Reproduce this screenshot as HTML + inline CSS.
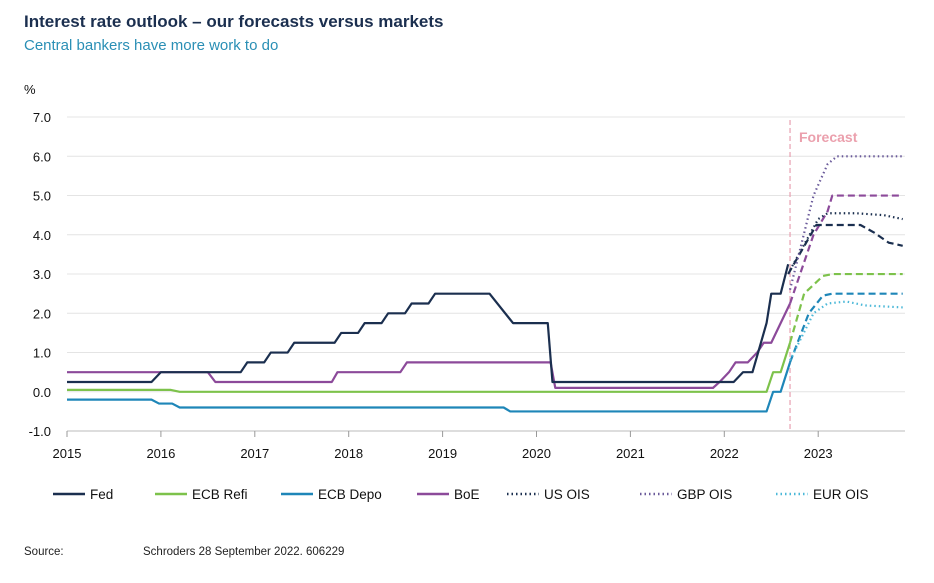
<!DOCTYPE html>
<html><head><meta charset="utf-8"><style>
body{margin:0;background:#fff;width:934px;height:578px;overflow:hidden;font-family:"Liberation Sans",sans-serif}
</style></head><body>
<svg width="934" height="578" id="chart" font-family="Liberation Sans, sans-serif">
<text x="24" y="27" font-size="17" font-weight="bold" fill="#1b2f4f">Interest rate outlook – our forecasts versus markets</text>
<text x="24" y="50" font-size="15" fill="#2a8fb5">Central bankers have more work to do</text>
<text x="24" y="94" font-size="13" fill="#111">%</text>
<g id="grid"></g><g id="series"></g><g id="legend"></g>
<text x="24" y="555" font-size="11.5" fill="#222">Source:</text>
<text x="143" y="555" font-size="11.5" fill="#222">Schroders 28 September 2022. 606229</text>
</svg>
<script>
const yTicks=[7,6,5,4,3,2,1,0,-1];
const xYears=[2015,2016,2017,2018,2019,2020,2021,2022,2023];
const fed=[[2015,0.25],[2015.9,0.25],[2016.0,0.5],[2016.85,0.5],[2016.92,0.75],[2017.1,0.75],[2017.17,1.0],[2017.35,1.0],[2017.42,1.25],[2017.85,1.25],[2017.92,1.5],[2018.1,1.5],[2018.17,1.75],[2018.35,1.75],[2018.42,2.0],[2018.6,2.0],[2018.67,2.25],[2018.85,2.25],[2018.92,2.5],[2019.5,2.5],[2019.75,1.75],[2020.12,1.75],[2020.17,0.25],[2022.1,0.25],[2022.2,0.5],[2022.3,0.5],[2022.45,1.75],[2022.5,2.5],[2022.6,2.5],[2022.68,3.25]];
const ecbRefi=[[2015,0.05],[2016.1,0.05],[2016.2,0],[2022.45,0],[2022.52,0.5],[2022.6,0.5],[2022.7,1.25]];
const ecbDepo=[[2015,-0.2],[2015.9,-0.2],[2015.98,-0.3],[2016.12,-0.3],[2016.2,-0.4],[2019.65,-0.4],[2019.72,-0.5],[2022.45,-0.5],[2022.52,0],[2022.6,0],[2022.7,0.75]];
const boe=[[2015,0.5],[2016.5,0.5],[2016.58,0.25],[2017.82,0.25],[2017.88,0.5],[2018.55,0.5],[2018.62,0.75],[2020.15,0.75],[2020.2,0.1],[2021.88,0.1],[2021.95,0.25],[2022.05,0.5],[2022.12,0.75],[2022.25,0.75],[2022.35,1.0],[2022.42,1.25],[2022.5,1.25],[2022.6,1.75],[2022.7,2.25]];
const fedF=[[2022.68,3.0],[2022.98,4.25],[2023.45,4.25],[2023.6,4.05],[2023.75,3.8],[2023.9,3.72]];
const refiF=[[2022.7,1.25],[2022.85,2.5],[2023.05,2.95],[2023.15,3.0],[2023.9,3.0]];
const depoF=[[2022.7,0.75],[2022.9,2.0],[2023.05,2.45],[2023.15,2.5],[2023.9,2.5]];
const boeF=[[2022.7,2.25],[2022.95,4.0],[2023.1,4.6],[2023.15,5.0],[2023.9,5.0]];
const usOis=[[2022.7,3.1],[2023.0,4.4],[2023.1,4.55],[2023.4,4.55],[2023.7,4.5],[2023.9,4.4]];
const gbpOis=[[2022.7,2.6],[2022.95,5.0],[2023.1,5.8],[2023.2,6.0],[2023.9,6.0]];
const eurOis=[[2022.7,0.8],[2022.95,2.0],[2023.1,2.25],[2023.3,2.3],[2023.5,2.2],[2023.9,2.15]];
const X0=67,YW=93.9,Y0=391.8,YU=39.25;
const x=v=>X0+(v-2015)*YW, y=v=>Y0-v*YU;
const NS="http://www.w3.org/2000/svg";
function mk(t,a,p){const e=document.createElementNS(NS,t);for(const k in a)e.setAttribute(k,a[k]);p.appendChild(e);return e;}
const grid=document.getElementById('grid');
yTicks.forEach(v=>{
 const l=mk('line',{x1:67,x2:905,y1:y(v),y2:y(v),stroke:v==-1?'#bbb':'#e4e4e4','stroke-width':1},grid);
 
 
 const t=mk('text',{x:51,y:y(v)+5,'font-size':13,'text-anchor':'end',fill:'#111'},grid);t.textContent=v.toFixed(1);
 
 
});
xYears.forEach(v=>{
 const k=mk('line',{x1:x(v),x2:x(v),y1:431,y2:437,stroke:'#999'},grid);
 
 
 const t=mk('text',{x:x(v),y:458,'font-size':13,'text-anchor':'middle',fill:'#111'},grid);t.textContent=v;
 
 
});
const fl=mk('line',{x1:x(2022.7),x2:x(2022.7),y1:120,y2:431,stroke:'#e8a0b0','stroke-dasharray':'5,3','stroke-width':1.2},grid);


const ft=mk('text',{x:799,y:142,'font-size':14,'font-weight':'bold',fill:'#eba0ad'},grid);ft.textContent='Forecast';


const S=document.getElementById('series');
const defs=[
 [ecbDepo,'#1e86b8','','ecb-depo-line'],[ecbRefi,'#7dc24b','','ecb-refi-line'],[boe,'#8c4a9a','','boe-line'],[fed,'#1b2f4f','','fed-line'],
 [depoF,'#1e86b8','7,4','ecb-depo-forecast'],[refiF,'#7dc24b','7,4','ecb-refi-forecast'],[boeF,'#8c4a9a','7,4','boe-forecast'],[fedF,'#1b2f4f','7,4','fed-forecast'],
 [eurOis,'#4bb8d8','1.5,3','eur-ois-line'],[usOis,'#1b2f4f','1.5,3','us-ois-line'],[gbpOis,'#6a5a9a','1.5,3','gbp-ois-line']];
defs.forEach(([d,c,da,n])=>{
 const p=mk('polyline',{points:d.map(q=>x(q[0])+','+y(q[1])).join(' '),fill:'none',stroke:c,'stroke-width':2.2,'stroke-dasharray':da,'stroke-linejoin':'round'},S);
 
 
});
const L=document.getElementById('legend');
const leg=[['Fed','#1b2f4f','',53],['ECB Refi','#7dc24b','',155],['ECB Depo','#1e86b8','',281],['BoE','#8c4a9a','',417],['US OIS','#1b2f4f','1.5,3',507],['GBP OIS','#6a5a9a','1.5,3',640],['EUR OIS','#4bb8d8','1.5,3',776]];
leg.forEach(([n,c,da,lx])=>{
 const g=mk('g',{},L);
 
 
 mk('line',{x1:lx,x2:lx+32,y1:494,y2:494,stroke:c,'stroke-width':2.5,'stroke-dasharray':da},g);
 const t=mk('text',{x:lx+37,y:499,'font-size':13.5,fill:'#111'},g);t.textContent=n;
});
</script>
</body></html>
